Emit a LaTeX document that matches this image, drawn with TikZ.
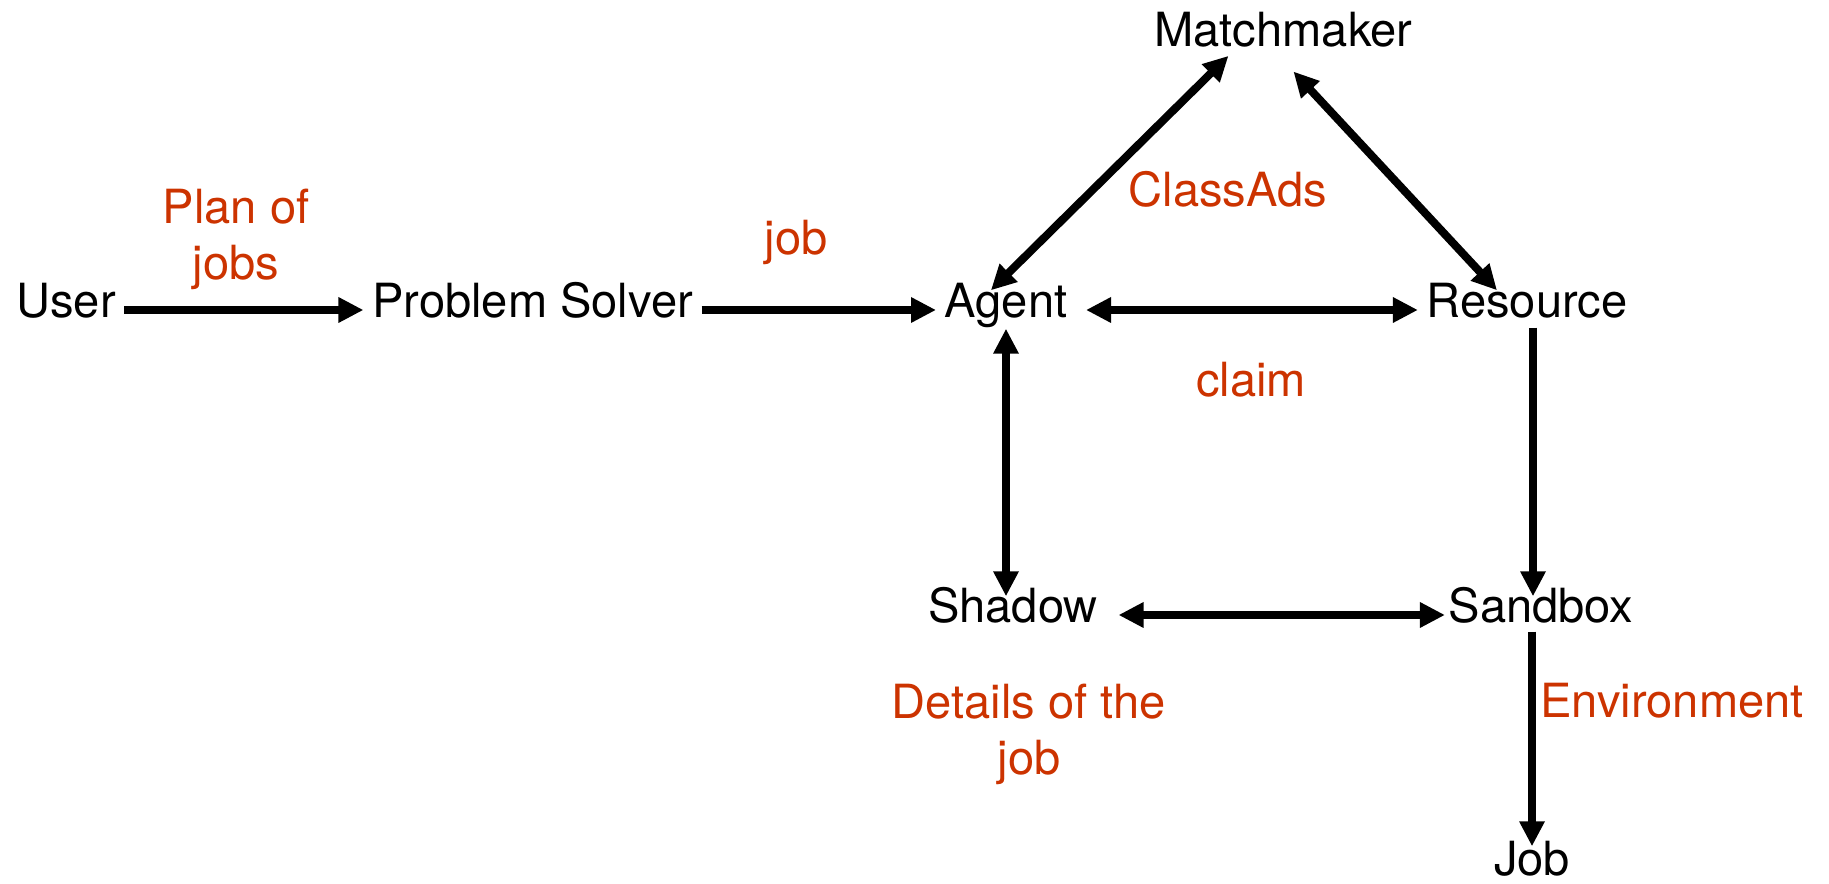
\documentclass[tikz,border=0pt]{standalone}
\usepackage{fontspec}
\setmainfont{TeX Gyre Heros}
\usetikzlibrary{arrows.meta}
\definecolor{msgred}{RGB}{204,51,0}

\begin{document}
\begin{tikzpicture}[
  every node/.style={font=\fontsize{13.4}{16.2}\selectfont},
  part/.style={anchor=base, inner xsep=0.08cm, inner ysep=0, text height=0.34cm, text depth=0.18cm},
  msg/.style={anchor=base, text=msgred, align=center, inner sep=0},
  >={Triangle[length=0.25cm,width=0.24cm]},
  link/.style={line width=0.08cm, ->},
  duplex/.style={line width=0.08cm, <->}
]
\useasboundingbox (0,0) rectangle (18.29,-8.84);

\node[part] (user)    at (0.66,-3.18)   {User};
\node[part] (solver)  at (5.325,-3.18)  {Problem Solver};
\node[part] (agent)   at (10.06,-3.18)  {Agent};
\node[part] (res)     at (15.27,-3.18)  {Resource};
\node[part] (mm)      at (12.835,-0.47) {Matchmaker};
\node[part] (shadow)  at (10.13,-6.23)  {Shadow};
\node[part] (sandbox) at (15.41,-6.23)  {Sandbox};
\node[part] (job)     at (15.32,-8.76)  {Job};

\draw[link] (user) -- (solver);
\draw[link] (solver) -- (agent);
\draw[duplex, shorten <=0.1cm] (agent) -- (res);
\draw[duplex, shorten <=-0.10cm, shorten >=-0.14cm] ([xshift=-0.08cm]agent.north) -- ([xshift=-0.65cm]mm.south);
\draw[duplex, shorten <=0.08cm, shorten >=-0.095cm] ([xshift=0.045cm]mm.south) -- ([xshift=-0.365cm]res.north);
\draw[duplex, shorten <=-0.08cm, shorten >=-0.08cm] (agent.south) -- (agent.south |- shadow.north);
\draw[link, shorten <=-0.09cm, shorten >=-0.08cm] ([xshift=0.06cm]res.south) -- ([xshift=0.06cm]res.south |- sandbox.north);
\draw[duplex, shorten <=0.12cm, shorten >=-0.05cm] (shadow) -- (sandbox);
\draw[link, shorten <=-0.10cm, shorten >=-0.05cm] (job.north |- sandbox.south) -- (job.north);

% two-line labels sit on the baseline of their last line
\node[msg] (plan)    at (2.36,-2.80)  {Plan of\\jobs};
\node[msg] (joblbl)  at (7.96,-2.55)  {job};
\node[msg] (ads)     at (12.28,-2.07) {ClassAds};
\node[msg] (claim)   at (12.51,-3.97) {claim};
\node[msg] (details) at (10.29,-7.75) {Details of the\\job};
\node[msg] (env)     at (16.72,-7.18) {Environment};

\end{tikzpicture}
\end{document}
